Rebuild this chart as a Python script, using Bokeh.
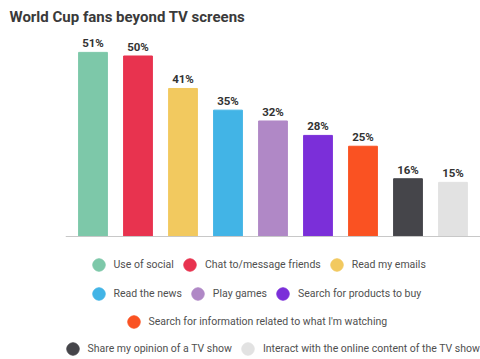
from bokeh.plotting import figure
from bokeh.models import ColumnDataSource, Range1d, FactorRange, Legend, LegendItem, Span
from bokeh.core.properties import value
from bokeh.embed import file_html
from bokeh.resources import INLINE

categories = [
    "Use of social",
    "Chat to/message friends",
    "Read my emails",
    "Read the news",
    "Play games",
    "Search for products to buy",
    "Search for information related to what I'm watching",
    "Share my opinion of a TV show",
    "Interact with the online content of the TV show",
]
shares = [51, 50, 41, 35, 32, 28, 25, 16, 15]
colors = ["#7dc8a9", "#e8334f", "#f2c95f", "#42b4e6", "#b088c6",
          "#7b2fd9", "#fa5222", "#45454a", "#e2e2e2"]
value_labels = [f"{v}%" for v in shares]
legend_rows = [[0, 1, 2], [3, 4, 5], [6], [7, 8]]

source = ColumnDataSource(dict(cat=categories, share=shares, color=colors,
                               label=value_labels, zero=[0] * len(shares)))

x_range = FactorRange(factors=categories, range_padding=0.0247)

p = figure(width=480, height=359, output_backend="svg", toolbar_location=None,
           x_range=x_range, y_range=Range1d(-34.07, 57.06),
           min_border_left=65, min_border_right=0, min_border_bottom=0,
           min_border_top=0)
p.title.text = "World Cup fans beyond TV screens"
p.title.text_font = "Roboto"
p.title.text_font_style = "bold"
p.title.text_font_size = "15px"
p.title.text_color = "#3a3a3a"
p.title.offset = -56
p.xaxis.visible = False
p.yaxis.visible = False
p.xgrid.visible = False
p.ygrid.visible = False
p.outline_line_color = None

p.vbar(x="cat", top="share", width=0.64, color="color", source=source)
p.add_layout(Span(location=0, dimension="width", line_color="#c8c8c8", line_width=1))
p.text(x="cat", y="share", text="label", source=source, text_align="center",
       text_baseline="bottom", y_offset=-2, text_font=value("Roboto"),
       text_font_style="bold", text_font_size="11.5px", text_color="#333333")

markers = p.scatter(x="cat", y="zero", size=0, color="color", source=source)

row_locs = [(17.5, 79.5), (17.5, 50.5), (52.5, 22.5), (-8.5, -4.5)]
for row, loc in zip(legend_rows, row_locs):
    items = [LegendItem(label=categories[i], renderers=[markers], index=i) for i in row]
    lg = Legend(items=items, orientation="horizontal", location=loc,
                glyph_width=31, glyph_height=31, label_standoff=0, spacing=0,
                margin=0, padding=0, border_line_color=None,
                background_fill_alpha=0, label_text_font="Roboto",
                label_text_font_size="10.5px", label_text_color="#505050")
    p.add_layout(lg)

open("out.html", "w").write(file_html(p, INLINE))
